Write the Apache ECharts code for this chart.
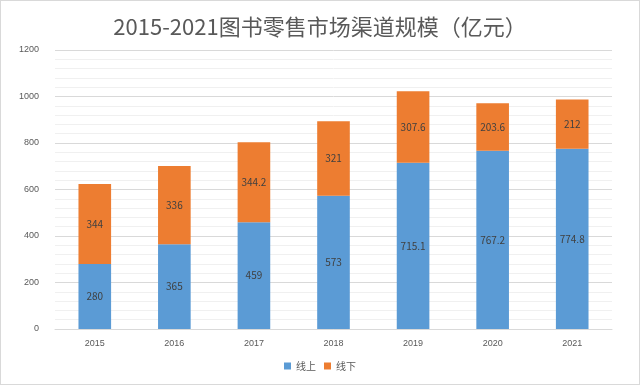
<!DOCTYPE html>
<html><head><meta charset="utf-8">
<script src="https://cdn.jsdelivr.net/npm/echarts@6/dist/echarts.min.js"></script>
<style>html,body{margin:0;padding:0;background:#fff}#c{width:638px;height:383px;border:1px solid #d9d9d9}</style>
</head><body><div id="c"></div>
<script>
const categories = ['2015','2016','2017','2018','2019','2020','2021'];
const online = [280,365,459,573,715.1,767.2,774.8];
const offline = [344,336,344.2,321,307.6,203.6,212];
const seriesNames = ['线上','线下'];
const chart = echarts.init(document.getElementById('c'));
const lbl = {show:true, position:'inside', color:'#404040', fontSize:10, fontFamily:'"Noto Sans CJK SC", sans-serif'};
chart.setOption({
  animation:false,
  title:{text:'2015-2021图书零售市场渠道规模（亿元）', left:'center', top:10,
    textStyle:{fontSize:22, fontWeight:'normal', color:'#595959', fontFamily:'"Noto Sans CJK SC", sans-serif'}},
  grid:{left:54, right:27, top:49, bottom:55},
  legend:{bottom:8, left:'center', itemWidth:7, itemHeight:7, itemGap:8,
    textStyle:{color:'#595959', fontSize:10, fontFamily:'"Noto Sans CJK SC", sans-serif'},
    data:seriesNames.map(n=>({name:n, icon:'rect'}))},
  xAxis:{type:'category', data:categories,
    axisLine:{lineStyle:{color:'#d9d9d9'}}, axisTick:{show:false},
    axisLabel:{color:'#595959', fontSize:9, margin:10}},
  yAxis:{type:'value', min:0, max:1200, interval:200,
    axisLabel:{color:'#595959', fontSize:9, margin:16, formatter:v=>String(v)},
    splitLine:{lineStyle:{color:'#d9d9d9'}},
    minorTick:{show:false, splitNumber:5},
    minorSplitLine:{show:true, lineStyle:{color:'#f0f0f0'}}},
  series:[
    {name:seriesNames[0], type:'bar', stack:'a', data:online, barWidth:'41%',
      itemStyle:{color:'#5B9BD5'}, label:lbl},
    {name:seriesNames[1], type:'bar', stack:'a', data:offline, barWidth:'41%',
      itemStyle:{color:'#ED7D31'}, label:lbl}
  ]
});
</script></body></html>
